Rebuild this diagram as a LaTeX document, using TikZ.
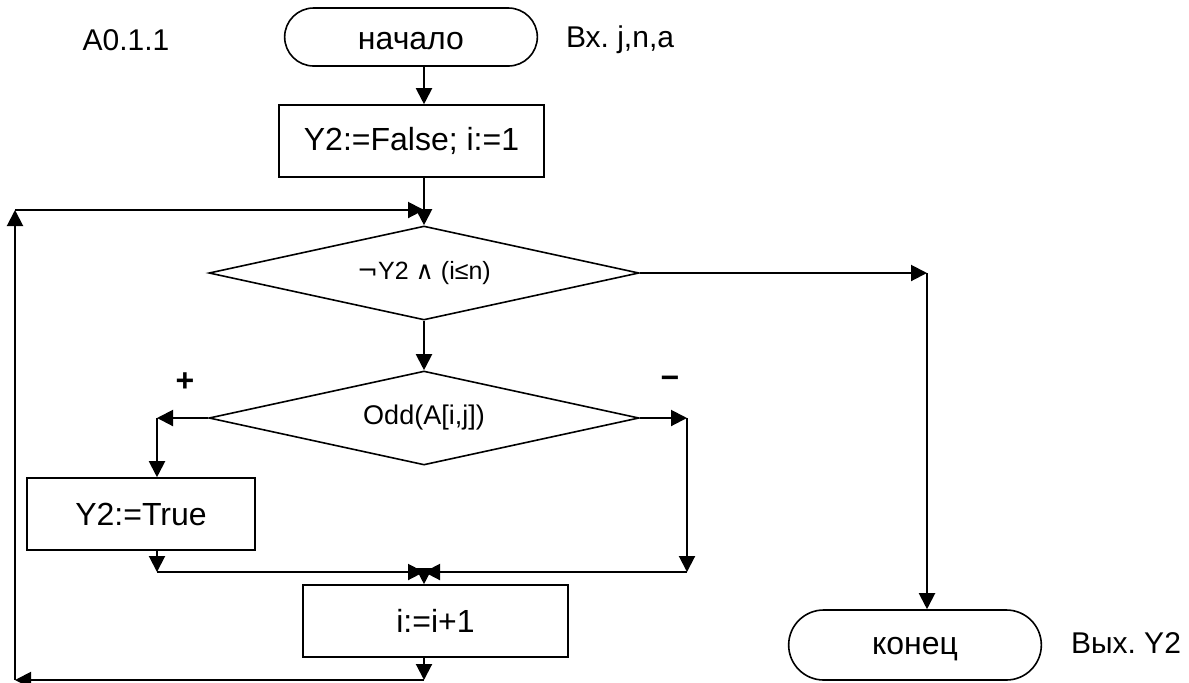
\documentclass[tikz,border=0pt]{standalone}
\usepackage{fontspec}
\setmainfont{Liberation Sans}
\newfontfamily\symfont{DejaVu Sans}
\usetikzlibrary{shapes.geometric,shapes.misc,arrows.meta}
\frenchspacing

\begin{document}
\begin{tikzpicture}[x=0.5pt,y=-0.5pt,line width=1pt,
   >={Triangle[length=8pt,width=8pt]},
   term/.style={draw,line width=0.8pt,rounded rectangle,minimum width=133pt,font=\fontsize{16}{19}\selectfont},
   proc/.style={draw,line width=0.8pt,rectangle,minimum width=132.5pt,minimum height=36pt,font=\fontsize{16}{19}\selectfont},
   cond/.style={draw,line width=0.8pt,diamond,aspect=4.57,inner sep=0pt,minimum width=215pt,minimum height=47pt,font=\fontsize{13.5}{16}\selectfont},
   lbl/.style={inner sep=0pt,font=\fontsize{15}{18}\selectfont},
   sign/.style={font=\bfseries\fontsize{16}{19}\selectfont}]
   \useasboundingbox (0,0) rectangle (1189,682);

   \node[lbl] (name) at (126,40) {A0.1.1};
   \node[term,minimum height=29pt,text height=13pt] (start) at (411,37) {начало};
   \node[lbl,anchor=west] (inp) at (565,40) {Вх. j,n,a};
   \node[proc] (init) at (411.5,141) {Y2:=False; i:=1};
   \node[cond] (loop) at (424,273) {\fontsize{12.5}{15}\selectfont{\symfont¬}Y2 {\symfont∧} (i≤n)};
   \node[cond] (odd) at (424,418) {Odd(A[i,j])};
   \node[sign] (plus) at (185,382) {+};
   \node[sign] (minus) at (670,382) {−};
   \node[proc,minimum width=114pt] (true) at (141,514) {Y2:=True};
   \node[proc] (inc) at (435.5,621) {i:=i+1};
   \node[term,minimum height=35pt,text height=13pt] (stop) at (915,645) {конец};
   \node[lbl,anchor=west] (out) at (1070,643) {Вых. Y2};

   % corners of the connectors
   \coordinate (join) at (424,210);
   \coordinate (tl) at (15,210);
   \coordinate (bl) at (15,680);
   \coordinate (br) at (424,680);
   \coordinate (exit) at (927,273);
   \coordinate (yes) at (157,418);
   \coordinate (yes2) at (157,572);
   \coordinate (no) at (687,418);
   \coordinate (no2) at (687,572);
   \coordinate (merge) at (424,572);

   \draw[->] (start.south -| join) -- (init.north -| join);
   \draw[->] (init.south -| join) -- (loop.north);
   \draw[->] (loop.east) -- (exit);
   \draw[->] (exit) -- (stop.north -| exit);
   \draw[->] (loop.south) -- (odd.north);
   \draw[->] (odd.west) -- (yes);
   \draw[->] (yes) -- (true.north -| yes);
   \draw[->] (true.south -| yes) -- (yes2);
   \draw[->] (yes2) -- (merge);
   \draw[->] (odd.east) -- (no);
   \draw[->] (no) -- (no2);
   \draw[->] (no2) -- (merge);
   \draw[->] (merge) -- (inc.north -| merge);
   \draw[->] (inc.south -| merge) -- (br);
   \draw[->] (br) -- (bl);
   \draw[->] (bl) -- (tl);
   \draw[->] (tl) -- (join);
\end{tikzpicture}
\end{document}
